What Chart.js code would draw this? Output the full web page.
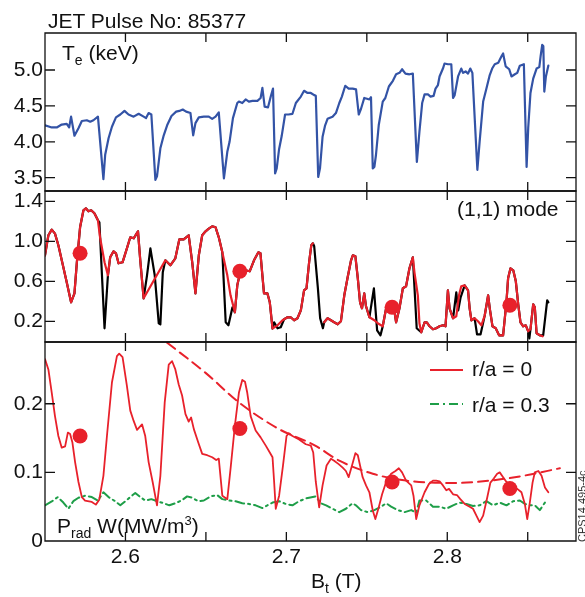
<!DOCTYPE html>
<html><head><meta charset="utf-8">
<script src="https://cdn.jsdelivr.net/npm/chart.js@4.4.0/dist/chart.umd.min.js"></script>
<style>
html,body{margin:0;padding:0;background:#fff;}
#wrap{position:relative;width:585px;height:597px;overflow:hidden;font-family:"Liberation Sans",Arial,Helvetica,sans-serif;color:#111;}
#c{position:absolute;left:0;top:0;}
.t{position:absolute;white-space:nowrap;font-size:21px;line-height:21px;}
.sb{font-size:14px;position:relative;top:5px;}
.sp{font-size:13px;position:relative;top:-8px;}
svg{position:absolute;}
</style></head>
<body>
<div id="wrap">
<canvas id="c" width="585" height="597" style="width:585px;height:597px"></canvas>
<div class="t" style="left:48px;top:9.5px">JET Pulse No: 85377</div>
<div class="t" style="left:62px;top:42px">T<span class="sb">e</span> (keV)</div>
<div class="t" style="left:457px;top:198px">(1,1) mode</div>
<div class="t" style="left:57px;top:515px">P<span class="sb">rad</span> W(MW/m<span class="sp">3</span>)</div>
<div class="t" style="left:472px;top:358px">r/a = 0</div>
<div class="t" style="left:472px;top:394px">r/a = 0.3</div>
<div class="t" style="left:311px;top:570px">B<span class="sb">t</span> (T)</div>
<div class="t" style="left:577px;top:542px;font-size:11px;line-height:11px;color:#333;transform:rotate(-90deg);transform-origin:0 0">CPS14.495-4c</div>
<svg style="left:428px;top:360px" width="40" height="50">
<line x1="2" y1="10" x2="35" y2="10" stroke="#E8212B" stroke-width="2"/>
<line x1="2" y1="44" x2="35" y2="44" stroke="#1E9E48" stroke-width="2" stroke-dasharray="9,4,2,4"/>
</svg>
</div>
<script>
// ---- axis ticks ----
const xLabelVals = [2.6, 2.7, 2.8];
const xLabels = ['2.6', '2.7', '2.8'];
const xTickMarks = [2.6, 2.65, 2.7, 2.75, 2.8, 2.85];
const teTicks = [3.5, 4.0, 4.5, 5.0];
const teTickLabels = ['3.5', '4.0', '4.5', '5.0'];
const modeTicks = [0.2, 0.6, 1.0, 1.4];
const modeTickLabels = ['0.2', '0.6', '1.0', '1.4'];
const pradTicks = [0, 0.1, 0.2];
const pradTickLabels = ['0', '0.1', '0.2'];

// ---- T_e (keV) ----
const teBt = [2.5500,2.5542,2.5573,2.5604,2.5635,2.5650,2.5662,2.5683,2.5708,2.5729,
2.5760,2.5781,2.5801,2.5829,2.5863,2.5874,2.5895,2.5916,2.5941,2.5968,
2.5994,2.6019,2.6051,2.6082,2.6113,2.6128,2.6144,2.6161,2.6186,2.6196,
2.6217,2.6238,2.6259,2.6286,2.6315,2.6335,2.6356,2.6377,2.6404,2.6421,
2.6435,2.6456,2.6487,2.6518,2.6539,2.6560,2.6580,2.6612,2.6633,2.6647,
2.6668,2.6695,2.6705,2.6726,2.6747,2.6767,2.6789,2.6820,2.6840,2.6851,
2.6865,2.6886,2.6903,2.6917,2.6930,2.6940,2.6955,2.6971,2.6992,2.7013,
2.7038,2.7059,2.7090,2.7110,2.7132,2.7152,2.7173,2.7183,2.7198,2.7209,
2.7225,2.7241,2.7256,2.7287,2.7308,2.7329,2.7345,2.7366,2.7387,2.7412,
2.7433,2.7450,2.7464,2.7484,2.7501,2.7516,2.7526,2.7537,2.7547,2.7557,
2.7574,2.7599,2.7615,2.7637,2.7662,2.7682,2.7703,2.7719,2.7740,2.7765,
2.7786,2.7811,2.7827,2.7844,2.7859,2.7880,2.7896,2.7915,2.7927,2.7942,
2.7952,2.7973,2.7983,2.8004,2.8025,2.8036,2.8046,2.8067,2.8087,2.8098,
2.8114,2.8129,2.8143,2.8156,2.8187,2.8201,2.8223,2.8243,2.8264,2.8279,
2.8295,2.8317,2.8337,2.8347,2.8363,2.8385,2.8399,2.8420,2.8435,2.8451,
2.8476,2.8493,2.8503,2.8517,2.8534,2.8555,2.8572,2.8580,2.8590,2.8597,
2.8603,2.8613,2.8628];
const teVal = [4.23,4.20,4.20,4.24,4.25,4.20,4.35,4.085,4.19,4.29,
4.30,4.28,4.30,4.35,3.48,3.82,4.05,4.21,4.34,4.38,
4.43,4.38,4.35,4.39,4.35,4.33,4.40,4.38,3.47,3.52,
3.91,4.09,4.23,4.36,4.42,4.43,4.45,4.42,4.40,4.09,
4.26,4.34,4.35,4.35,4.32,4.35,4.41,3.49,3.86,4.00,
4.33,4.54,4.56,4.54,4.59,4.56,4.57,4.57,4.61,4.75,
4.49,4.48,4.63,4.74,3.56,3.63,3.90,4.08,4.38,4.38,
4.39,4.54,4.63,4.71,4.68,4.68,4.65,4.64,3.51,3.63,
4.07,4.23,4.32,4.35,4.40,4.54,4.63,4.78,4.74,4.74,
4.73,4.38,4.46,4.61,4.60,4.59,4.62,3.63,3.65,3.82,
4.23,4.56,4.61,4.77,4.85,4.94,4.96,5.01,4.95,4.94,
4.95,3.72,4.14,4.54,4.66,4.66,4.63,4.64,4.74,4.79,
4.91,5.02,5.09,5.08,5.08,4.61,4.65,4.91,5.02,4.96,
4.98,4.95,5.02,4.96,3.61,4.00,4.56,4.74,4.93,5.02,
5.08,5.10,5.19,5.23,5.05,5.01,4.91,4.94,4.96,5.06,
5.08,3.65,4.19,4.68,4.88,5.02,5.04,5.19,5.35,5.33,
4.70,4.91,5.06];

// ---- (1,1) mode: red trace ----
const modeRedBt = [2.5500,2.5521,2.5542,2.5562,2.5583,2.5614,2.5635,2.5662,2.5683,2.5698,
2.5718,2.5739,2.5754,2.5770,2.5787,2.5807,2.5829,2.5843,2.5870,2.5891,
2.5905,2.5926,2.5941,2.5957,2.5982,2.6009,2.6030,2.6051,2.6078,2.6092,
2.6113,2.6248,2.6279,2.6310,2.6335,2.6362,2.6393,2.6415,2.6435,2.6456,
2.6477,2.6498,2.6518,2.6539,2.6560,2.6580,2.6602,2.6633,2.6653,2.6680,
2.6695,2.6716,2.6747,2.6772,2.6799,2.6826,2.6839,2.6851,2.6861,2.6882,
2.6897,2.6914,2.6945,2.6976,2.7007,2.7027,2.7048,2.7069,2.7090,2.7110,
2.7125,2.7142,2.7155,2.7165,2.7175,2.7235,2.7256,2.7277,2.7297,2.7319,
2.7339,2.7360,2.7381,2.7402,2.7413,2.7429,2.7444,2.7458,2.7470,2.7484,
2.7495,2.7516,2.7547,2.7568,2.7599,2.7620,2.7640,2.7665,2.7682,2.7703,
2.7724,2.7744,2.7765,2.7786,2.7796,2.7817,2.7827,2.7838,2.7859,2.7873,
2.7890,2.7911,2.7931,2.7952,2.7973,2.7989,2.8004,2.8014,2.8036,2.8056,
2.8073,2.8087,2.8108,2.8129,2.8139,2.8150,2.8170,2.8191,2.8212,2.8233,
2.8254,2.8264,2.8281,2.8301,2.8322,2.8347,2.8368,2.8378,2.8393,2.8410,
2.8426,2.8441,2.8455,2.8472,2.8488,2.8503,2.8517,2.8534,2.8544,2.8555,
2.8575,2.8592];
const modeRedVal = [0.86,1.06,1.117,1.077,0.96,0.74,0.59,0.39,0.48,0.79,
1.14,1.31,1.33,1.30,1.31,1.28,1.21,1.03,0.79,0.66,
0.84,0.90,0.88,0.78,0.79,0.93,1.04,1.03,1.10,0.81,
0.43,0.81,0.76,0.83,1.02,1.02,1.06,0.79,0.48,0.86,
1.06,1.10,1.127,1.15,1.14,1.04,0.89,0.66,0.46,0.29,
0.56,0.71,0.71,0.70,0.81,0.89,0.88,0.66,0.48,0.48,
0.39,0.127,0.16,0.21,0.24,0.24,0.21,0.23,0.31,0.51,
0.53,0.80,0.96,0.98,null,0.19,0.23,0.21,0.19,0.17,
0.20,0.46,0.64,0.81,0.86,0.85,0.63,0.39,0.33,0.48,
0.35,0.24,0.21,0.18,0.15,0.33,0.39,0.37,0.19,0.33,
0.53,0.55,0.73,0.84,0.69,0.46,0.18,0.09,0.19,0.19,
0.15,0.12,0.13,0.15,0.16,0.15,0.51,0.33,0.23,0.25,
0.46,0.55,0.56,0.51,0.33,0.21,0.23,0.20,0.16,0.26,
0.46,0.33,0.15,0.13,0.06,0.06,0.40,0.63,0.73,0.71,
0.60,0.37,0.19,0.15,0.16,0.10,0.12,0.37,0.34,0.08,
0.06,0.05];

// ---- (1,1) mode: black trace ----
const modeBlackBt = [2.5500,2.5521,2.5542,2.5562,2.5583,2.5614,2.5635,2.5662,2.5683,2.5698,
2.5718,2.5739,2.5754,2.5770,2.5787,2.5807,2.5829,2.5838,2.5870,2.5891,
2.5905,2.5926,2.5941,2.5957,2.5982,2.6009,2.6030,2.6051,2.6078,2.6092,
2.6113,2.6134,2.6155,2.6182,2.6207,2.6217,2.6232,2.6248,2.6279,2.6310,
2.6335,2.6362,2.6393,2.6415,2.6435,2.6456,2.6477,2.6498,2.6518,2.6539,
2.6560,2.6580,2.6602,2.6623,2.6640,2.6665,2.6680,2.6695,2.6716,2.6747,
2.6772,2.6799,2.6826,2.6839,2.6851,2.6861,2.6882,2.6897,2.6914,2.6924,
2.6945,2.6965,2.6986,2.7007,2.7027,2.7048,2.7069,2.7090,2.7110,2.7125,
2.7142,2.7155,2.7165,2.7173,2.7196,2.7210,2.7227,2.7235,2.7256,2.7277,
2.7297,2.7319,2.7339,2.7360,2.7381,2.7402,2.7413,2.7429,2.7444,2.7458,
2.7470,2.7484,2.7495,2.7516,2.7544,2.7564,2.7585,2.7599,2.7620,2.7640,
2.7665,2.7682,2.7703,2.7724,2.7744,2.7765,2.7786,2.7810,2.7838,2.7859,
2.7873,2.7890,2.7911,2.7931,2.7952,2.7973,2.7989,2.8004,2.8014,2.8036,
2.8056,2.8068,2.8083,2.8108,2.8129,2.8139,2.8150,2.8170,2.8185,2.8207,
2.8233,2.8254,2.8264,2.8281,2.8301,2.8322,2.8347,2.8368,2.8378,2.8393,
2.8410,2.8426,2.8441,2.8455,2.8472,2.8488,2.8503,2.8510,2.8517,2.8534,
2.8544,2.8555,2.8575,2.8596,2.8621,2.8628];
const modeBlackVal = [0.86,1.06,1.117,1.077,0.96,0.74,0.59,0.39,0.48,0.79,
1.14,1.31,1.33,1.30,1.31,1.28,1.21,1.19,0.13,0.66,
0.84,0.90,0.88,0.78,0.79,0.93,1.04,1.03,1.10,0.81,
0.43,0.66,0.93,0.66,0.18,0.17,0.69,0.81,0.76,0.83,
1.02,1.02,1.06,0.79,0.48,0.86,1.06,1.10,1.127,1.15,
1.14,1.04,0.89,0.19,0.16,0.34,0.29,0.56,0.71,0.71,
0.70,0.81,0.89,0.88,0.66,0.48,0.48,0.39,0.127,0.19,
0.13,0.14,0.22,0.24,0.24,0.21,0.23,0.31,0.51,0.53,
0.80,0.96,0.98,0.95,0.53,0.23,0.13,0.19,0.23,0.21,
0.19,0.17,0.20,0.46,0.64,0.81,0.86,0.85,0.63,0.39,
0.33,0.48,0.35,0.24,0.53,0.11,0.06,0.15,0.33,0.39,
0.37,0.19,0.33,0.53,0.55,0.73,0.84,0.13,0.09,0.19,
0.19,0.15,0.12,0.13,0.15,0.16,0.15,0.51,0.33,0.23,
0.49,0.31,0.44,0.56,0.51,0.33,0.21,0.23,0.07,0.07,
0.26,0.46,0.33,0.15,0.13,0.06,0.06,0.40,0.63,0.73,
0.71,0.60,0.37,0.19,0.15,0.16,0.10,0.03,0.12,0.37,
0.34,0.08,0.06,0.06,0.41,0.39];

// ---- P_rad, r/a = 0 ----
const pradCoreBt = [2.5500,2.5521,2.5542,2.5562,2.5583,2.5604,2.5625,2.5642,2.5656,2.5670,
2.5687,2.5708,2.5729,2.5749,2.5791,2.5816,2.5837,2.5863,2.5885,2.5916,
2.5947,2.5961,2.5982,2.6009,2.6030,2.6051,2.6072,2.6103,2.6123,2.6144,
2.6169,2.6196,2.6217,2.6244,2.6269,2.6290,2.6310,2.6331,2.6352,2.6373,
2.6393,2.6408,2.6425,2.6452,2.6477,2.6508,2.6539,2.6564,2.6580,2.6602,
2.6633,2.6653,2.6680,2.6705,2.6726,2.6743,2.6757,2.6778,2.6809,2.6840,
2.6872,2.6897,2.6914,2.6924,2.6934,2.6955,2.6979,2.7001,2.7015,2.7038,
2.7079,2.7121,2.7152,2.7167,2.7183,2.7204,2.7225,2.7250,2.7277,2.7297,
2.7325,2.7350,2.7370,2.7387,2.7408,2.7429,2.7444,2.7458,2.7474,2.7495,
2.7516,2.7537,2.7553,2.7574,2.7595,2.7620,2.7651,2.7678,2.7699,2.7719,
2.7744,2.7776,2.7790,2.7807,2.7827,2.7859,2.7886,2.7911,2.7931,2.7952,
2.7973,2.7994,2.8011,2.8036,2.8060,2.8081,2.8108,2.8139,2.8160,2.8181,
2.8201,2.8223,2.8248,2.8268,2.8289,2.8310,2.8326,2.8347,2.8368,2.8389,
2.8410,2.8435,2.8461,2.8482,2.8497,2.8513,2.8530,2.8544,2.8566,2.8586,
2.8607,2.8628];
const pradCoreVal = [0.265,0.250,0.216,0.182,0.153,0.136,0.138,0.158,0.156,0.144,
0.115,0.086,0.064,0.059,0.057,0.053,0.060,0.095,0.153,0.231,
0.2695,0.273,0.268,0.226,0.190,0.175,0.162,0.170,0.153,0.115,
0.086,0.052,0.095,0.202,0.257,0.262,0.250,0.228,0.212,0.185,
0.174,0.180,0.163,0.144,0.127,0.125,0.122,0.118,0.120,0.066,
0.061,0.105,0.168,0.216,0.2347,0.232,0.216,0.182,0.161,0.151,
0.139,0.129,0.122,0.086,0.047,0.066,0.110,0.153,0.157,0.153,
0.148,0.141,0.139,0.129,0.086,0.049,0.081,0.110,0.120,0.117,
0.112,0.107,0.102,0.093,0.110,0.128,0.125,0.110,0.093,0.081,
0.071,0.0445,0.032,0.049,0.068,0.086,0.098,0.102,0.106,0.100,
0.088,0.081,0.066,0.032,0.052,0.071,0.083,0.088,0.088,0.087,
0.081,0.074,0.076,0.068,0.067,0.061,0.054,0.050,0.047,0.037,
0.0276,0.037,0.063,0.085,0.091,0.098,0.100,0.093,0.086,0.081,
0.078,0.076,0.071,0.054,0.032,0.056,0.085,0.100,0.102,0.095,
0.078,0.071];

// ---- P_rad, r/a = 0.3 ----
const pradEdgeBt = [2.5500,2.5542,2.5579,2.5614,2.5645,2.5676,2.5708,2.5749,2.5791,2.5829,
2.5863,2.5895,2.5936,2.5968,2.5999,2.6030,2.6061,2.6092,2.6123,2.6161,
2.6196,2.6238,2.6273,2.6310,2.6348,2.6383,2.6415,2.6452,2.6487,2.6529,
2.6570,2.6602,2.6643,2.6685,2.6726,2.6767,2.6809,2.6851,2.6882,2.6914,
2.6955,2.6996,2.7038,2.7079,2.7121,2.7183,2.7214,2.7247,2.7287,2.7329,
2.7370,2.7412,2.7432,2.7464,2.7506,2.7547,2.7589,2.7620,2.7651,2.7693,
2.7734,2.7776,2.7807,2.7827,2.7869,2.7911,2.7952,2.7994,2.8036,2.8077,
2.8119,2.8160,2.8201,2.8243,2.8285,2.8326,2.8368,2.8410,2.8451,2.8482,
2.8513,2.8544,2.8575,2.8607,2.8628];
const pradEdgeVal = [0.052,0.0576,0.064,0.056,0.047,0.058,0.063,0.066,0.064,0.059,
0.071,0.064,0.058,0.052,0.058,0.064,0.070,0.064,0.059,0.061,
0.058,0.055,0.052,0.055,0.059,0.065,0.063,0.058,0.059,0.065,
0.067,0.061,0.059,0.058,0.055,0.054,0.052,0.048,0.052,0.056,
0.058,0.054,0.052,0.058,0.062,0.065,0.055,0.052,0.047,0.042,
0.047,0.055,0.052,0.045,0.042,0.045,0.050,0.055,0.050,0.045,
0.042,0.045,0.041,0.059,0.059,0.050,0.050,0.047,0.052,0.056,
0.054,0.051,0.052,0.058,0.052,0.056,0.052,0.058,0.059,0.054,
0.052,0.052,0.045,0.056,0.054];

// ---- P_rad envelope (dashed) ----
const envBt = [2.6259,2.6498,2.6705,2.6955,2.7179,2.7329,2.7537,2.7744,2.8056,2.8264,2.8472,2.8700];
const envVal = [0.289,0.245,0.202,0.163,0.139,0.117,0.098,0.088,0.0846,0.088,0.095,0.106];

// ---- marked points ----
const dotBt = [2.5718, 2.6711, 2.7657, 2.8389];
const dotMode = [0.88, 0.70, 0.34, 0.36];
const dotPrad = [0.153, 0.164, 0.086, 0.0765];

// ---------------------------------------------------------------
const RED = '#E8212B', BLUE = '#3353A6', GREEN = '#1E9E48';
const FONT = '"Liberation Sans", Arial, Helvetica, sans-serif';
const pts = (xs, ys) => xs.map((x, i) => ({x: x, y: ys[i]}));

function yAxis(min, max, stackWeight, weight, tickVals, tickLabels) {
  return {
    type: 'linear', position: 'left', stack: 'panels', stackWeight: stackWeight, weight: weight,
    min: min, max: max,
    grid: {display: false, drawTicks: false}, border: {display: false},
    afterBuildTicks: s => { s.ticks = tickVals.map(v => ({value: v})); },
    ticks: {callback: (v, i) => tickLabels[i], font: {size: 21, family: FONT}, color: '#111', padding: 2, autoSkip: false},
    afterFit: s => { s.width = 45; }
  };
}

const panels = [
  {id: 'yTe', ticks: teTicks},
  {id: 'yMode', ticks: modeTicks},
  {id: 'yPrad', ticks: pradTicks.filter(v => v > 0)}
];

const framePlugin = {
  id: 'frame',
  afterDatasetsDraw(chart) {
    const ctx = chart.ctx;
    const left = chart.chartArea.left, right = chart.chartArea.right;
    const xs = chart.scales.x;
    ctx.save();
    ctx.strokeStyle = '#111';
    ctx.lineWidth = 1.3;
    panels.forEach(p => {
      const s = chart.scales[p.id];
      ctx.beginPath();
      ctx.rect(left, s.top, right - left, s.bottom - s.top);
      p.ticks.forEach(v => {
        const y = s.getPixelForValue(v);
        ctx.moveTo(left, y); ctx.lineTo(left + 10, y);
        ctx.moveTo(right, y); ctx.lineTo(right - 10, y);
      });
      xTickMarks.forEach(v => {
        const x = xs.getPixelForValue(v);
        ctx.moveTo(x, s.top); ctx.lineTo(x, s.top + 9);
        ctx.moveTo(x, s.bottom); ctx.lineTo(x, s.bottom - 9);
      });
      ctx.stroke();
    });
    ctx.restore();
  }
};

new Chart(document.getElementById('c'), {
  type: 'line',
  data: {
    datasets: [
      {data: pts(dotBt, dotMode), yAxisID: 'yMode', showLine: false, pointRadius: 7.5, pointBackgroundColor: RED, pointBorderWidth: 0, order: 0},
      {data: pts(dotBt, dotPrad), yAxisID: 'yPrad', showLine: false, pointRadius: 7.5, pointBackgroundColor: RED, pointBorderWidth: 0, order: 0},
      {data: pts(teBt, teVal), yAxisID: 'yTe', borderColor: BLUE, borderWidth: 2.2, order: 3},
      {data: pts(modeRedBt, modeRedVal), yAxisID: 'yMode', borderColor: RED, borderWidth: 2.2, spanGaps: false, order: 2},
      {data: pts(modeBlackBt, modeBlackVal), yAxisID: 'yMode', borderColor: '#000', borderWidth: 2.2, order: 4},
      {data: pts(pradCoreBt, pradCoreVal), yAxisID: 'yPrad', borderColor: RED, borderWidth: 1.8, order: 2},
      {data: pts(pradEdgeBt, pradEdgeVal), yAxisID: 'yPrad', borderColor: GREEN, borderWidth: 2, borderDash: [9, 4, 2, 4], order: 3},
      {data: pts(envBt, envVal), yAxisID: 'yPrad', borderColor: RED, borderWidth: 2, borderDash: [10, 6], tension: 0.4, cubicInterpolationMode: 'monotone', order: 3}
    ]
  },
  options: {
    responsive: false, animation: false, devicePixelRatio: 1,
    layout: {padding: {top: 33, right: 9, left: 0, bottom: 0}},
    plugins: {legend: {display: false}, tooltip: {enabled: false}},
    elements: {point: {radius: 0, hoverRadius: 0}, line: {tension: 0, borderCapStyle: 'round', borderJoinStyle: 'round'}},
    events: [],
    scales: {
      x: {
        type: 'linear', position: 'bottom', min: 2.55, max: 2.88,
        grid: {display: false, drawTicks: false}, border: {display: false},
        afterBuildTicks: s => { s.ticks = xLabelVals.map(v => ({value: v})); },
        ticks: {callback: (v, i) => xLabels[i], font: {size: 21, family: FONT}, color: '#111', padding: 4, maxRotation: 0, autoSkip: false},
        afterFit: s => { s.height = 56; }
      },
      yPrad: yAxis(0, 0.29, 199, 1, pradTicks, pradTickLabels),
      yMode: yAxis(-0.007, 1.503, 151, 2, modeTicks, modeTickLabels),
      yTe: yAxis(3.315, 5.515, 158, 3, teTicks, teTickLabels)
    }
  },
  plugins: [framePlugin]
});
</script>
</body></html>
